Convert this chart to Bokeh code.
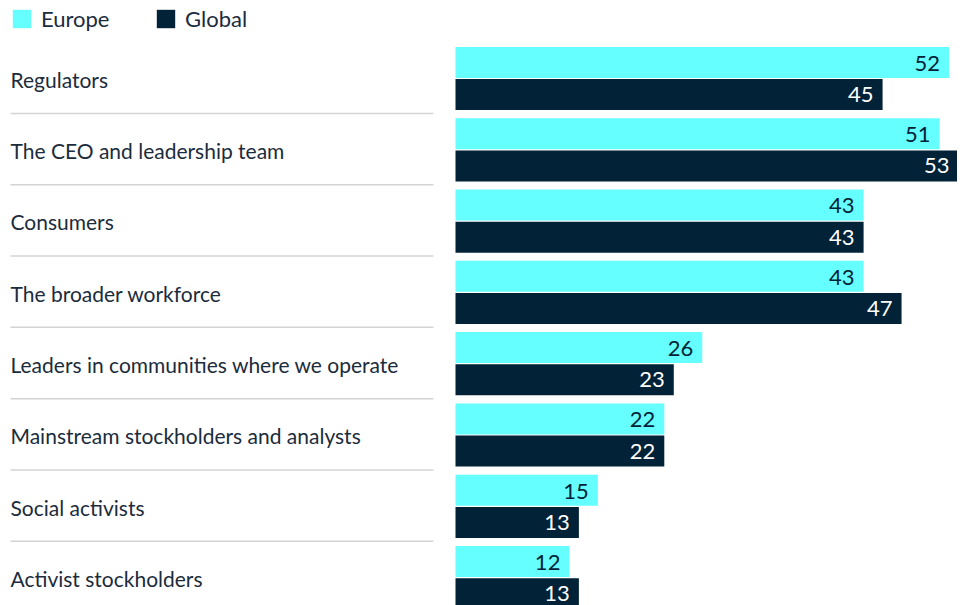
from bokeh.plotting import figure
from bokeh.models import Range1d, ColumnDataSource, Legend, LegendItem
from bokeh.core.properties import value
from bokeh.embed import file_html
from bokeh.resources import INLINE

categories = ["Regulators", "The CEO and leadership team", "Consumers",
              "The broader workforce", "Leaders in communities where we operate",
              "Mainstream stockholders and analysts", "Social activists",
              "Activist stockholders"]
europe = [52, 51, 43, 43, 26, 22, 15, 12]
global_ = [45, 53, 43, 47, 23, 22, 13, 13]

EU_COLOR = "#66FFFF"
GL_COLOR = "#012237"
TEXT_COLOR = "#1b2c3c"
FONT = "Lato"

W, H = 957, 605
s = 503 / 53.0          # px per unit on x
x0px = 455              # px where value 0 sits
row_px = 71.3
top_px = 78.0

xr = Range1d(-x0px / s, (W - x0px) / s)
yr = Range1d((H - top_px) / row_px, -top_px / row_px)

p = figure(width=W, height=H, x_range=xr, y_range=yr, output_backend="svg",
           toolbar_location=None, min_border=0)
p.axis.visible = False
p.grid.visible = False
p.outline_line_color = None
p.background_fill_color = "white"
p.border_fill_color = "white"

idx = list(range(len(categories)))
off = 0.226
bh = 0.435
src = ColumnDataSource(dict(
    y_eu=[i - off for i in idx], y_gl=[i + off for i in idx],
    eu=europe, gl=global_, cat=categories,
    eu_txt=[str(v) for v in europe], gl_txt=[str(v) for v in global_],
    y_cat=[i + 0.01 for i in idx],
))

r_eu = p.hbar(y="y_eu", right="eu", left=0, height=bh, source=src,
              fill_color=EU_COLOR, line_color=None)
r_gl = p.hbar(y="y_gl", right="gl", left=0, height=bh, source=src,
              fill_color=GL_COLOR, line_color=None)

p.text(x="eu", y="y_eu", text="eu_txt", source=src, x_offset=-9, y_offset=1,
       text_align="right", text_baseline="middle", text_font=value(FONT),
       text_font_size="22px", text_color=GL_COLOR)
p.text(x="gl", y="y_gl", text="gl_txt", source=src, x_offset=-9, y_offset=0,
       text_align="right", text_baseline="middle", text_font=value(FONT),
       text_font_size="22px", text_color="white")

p.text(x=xr.start, y="y_cat", text="cat", source=src, x_offset=10,
       text_align="left", text_baseline="middle", text_font=value(FONT),
       text_font_size="21px", text_color=TEXT_COLOR)

sep_y = [i + 0.49 for i in idx[:-1]]
p.segment(x0=[xr.start + 10 / s] * len(sep_y), x1=[-22 / s] * len(sep_y),
          y0=sep_y, y1=sep_y, line_color="#d4d4d4", line_width=1.5)

legend = Legend(items=[LegendItem(label="Europe", renderers=[r_eu]),
                       LegendItem(label="Global", renderers=[r_gl])],
                orientation="horizontal", location=(10, H - 9 - 23),
                glyph_width=23, glyph_height=23, label_height=23,
                label_width=100, label_standoff=8, spacing=13,
                padding=0, margin=0, border_line_color=None,
                background_fill_alpha=0,
                label_text_font=FONT, label_text_font_size="22px",
                label_text_color=TEXT_COLOR, label_text_baseline="middle")
p.add_layout(legend, "center")

open("out.html", "w").write(file_html(p, INLINE))
